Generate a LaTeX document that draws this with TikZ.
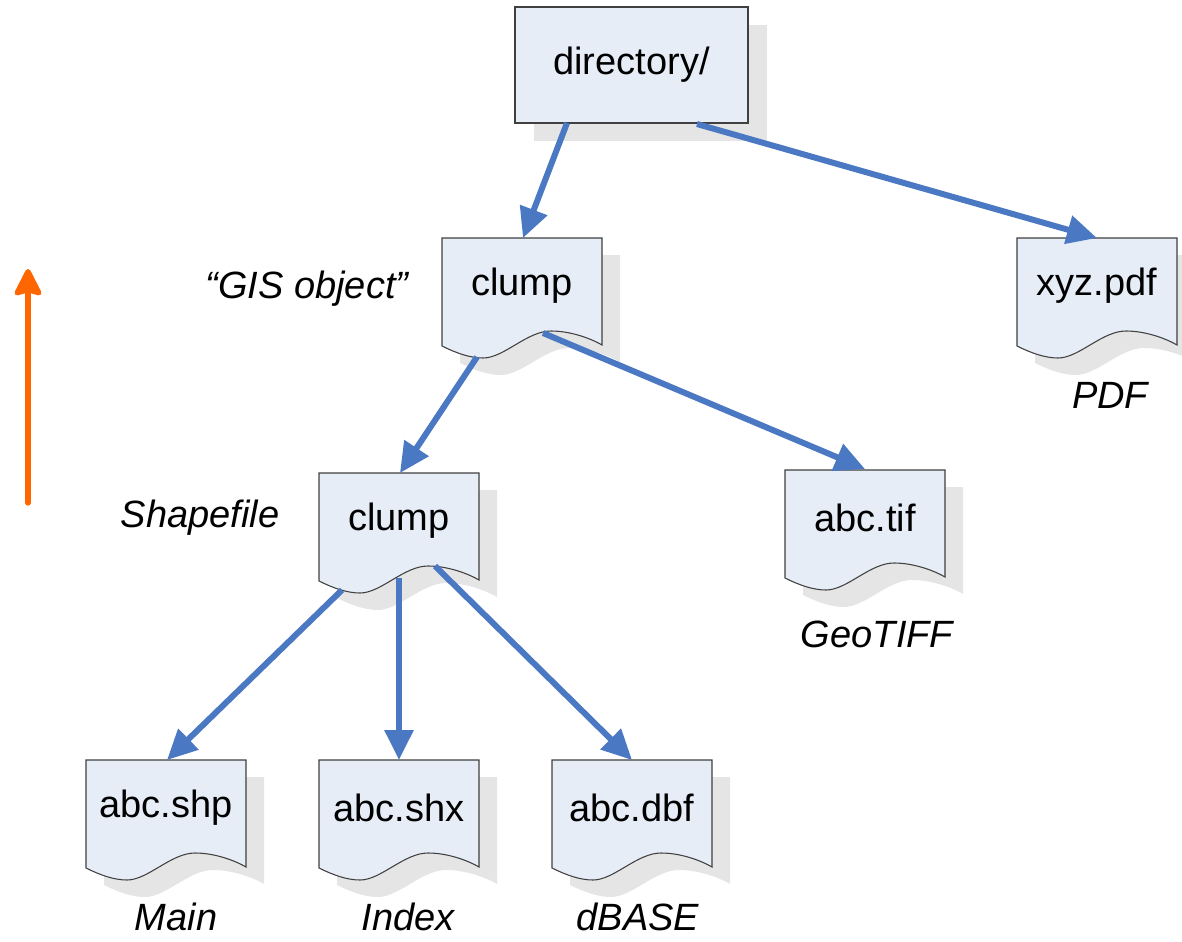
\documentclass[tikz,border=0pt]{standalone}
\usepackage{fontspec}
\setmainfont{Liberation Sans}
\usetikzlibrary{arrows.meta,calc}

\definecolor{docfill}{HTML}{E6EDF7}
\definecolor{docline}{HTML}{404040}
\definecolor{shadowgray}{HTML}{E5E5E5}
\definecolor{linkblue}{HTML}{4A78C2}
\definecolor{upcolor}{HTML}{FF6600}

\tikzset{
  boxtext/.style={inner sep=0pt,font=\fontsize{28.5}{34}\selectfont},
  tag/.style={inner sep=0pt,anchor=base,font=\fontsize{28.5}{34}\selectfont\itshape},
  docedge/.style={draw=docline,line width=0.8pt,fill=docfill},
  link/.style={draw=linkblue,line width=4.5pt,
    -{Triangle[length=22.5pt,width=21pt]}},
}

% page-shaped outline of one document, origin at its top left corner
\newcommand{\docpath}{(0,0) -- (160,0) -- (160,107)
  .. controls (148,100) and (128,93) .. (109,93)
  .. controls (85,93) and (62,120) .. (41,120)
  .. controls (28,120) and (14,115) .. (0,108) -- cycle}

% \docnode{name}{x}{y}{text}
\newcommand{\docnode}[4]{%
  \begin{scope}[shift={(#2,#3)}]
    \fill[shadowgray] [shift={(18,17)}] \docpath;
    \path[docedge] \docpath;
    \coordinate (#1-tl) at (0,0);
    \node[boxtext] (#1) at (80,48) {#4};
  \end{scope}}

\begin{document}
\begin{tikzpicture}[x=0.75pt,y=-0.75pt]
  \useasboundingbox (0,0) rectangle (1182,942);

  % root folder
  \fill[shadowgray] (534,25) rectangle (767,141);
  \path[docedge] (515,7) rectangle (748,123);
  \coordinate (dir-tl) at (515,7);
  \node[boxtext] (dir) at (631.5,65) {directory/};

  % files
  \docnode{gis}{442}{238}{clump}
  \docnode{pdf}{1017}{238}{xyz.pdf}
  \docnode{shape}{319}{473}{clump}
  \docnode{tif}{785}{470}{abc.tif}
  \docnode{shp}{86}{760}{abc.shp}
  \docnode{shx}{319}{760}{abc.shx}
  \docnode{dbf}{552}{760}{abc.dbf}

  % captions
  \node[tag] (tgis) at (307,298) {“GIS object”};
  \node[tag] (tpdf) at (1110,408) {PDF};
  \node[tag] (tshape) at (200,527) {Shapefile};
  \node[tag] (ttif) at (877,647) {GeoTIFF};
  \node[tag] (tshp) at (176,930) {Main};
  \node[tag] (tshx) at (408,930) {Index};
  \node[tag] (tdbf) at (638,930) {dBASE};

  % containment links
  \draw[link] ($(dir-tl)+(52,116)$) -- ($(gis-tl)+(81,0)$);
  \draw[link] ($(dir-tl)+(182,117)$) -- ($(pdf-tl)+(80,0)$);
  \draw[link] ($(gis-tl)+(35,119)$) -- ($(shape-tl)+(81,0)$);
  \draw[link] ($(gis-tl)+(101,95)$) -- ($(tif-tl)+(80,-1)$);
  \draw[link] ($(shape-tl)+(23,117)$) -- ($(shp-tl)+(81,0)$);
  \draw[link] ($(shape-tl)+(80,105)$) -- ($(shx-tl)+(80,0)$);
  \draw[link] ($(shape-tl)+(116,93)$) -- ($(dbf-tl)+(80,0)$);

  % upward arrow at the left
  \coordinate (upfoot) at (28,503);
  \coordinate (uphead) at (28,269);
  \draw[upcolor,line width=3.9pt,line cap=round,
    -{Stealth[length=23pt,width=23pt,inset=3pt,round=false]}] (upfoot) -- (uphead);
\end{tikzpicture}
\end{document}
